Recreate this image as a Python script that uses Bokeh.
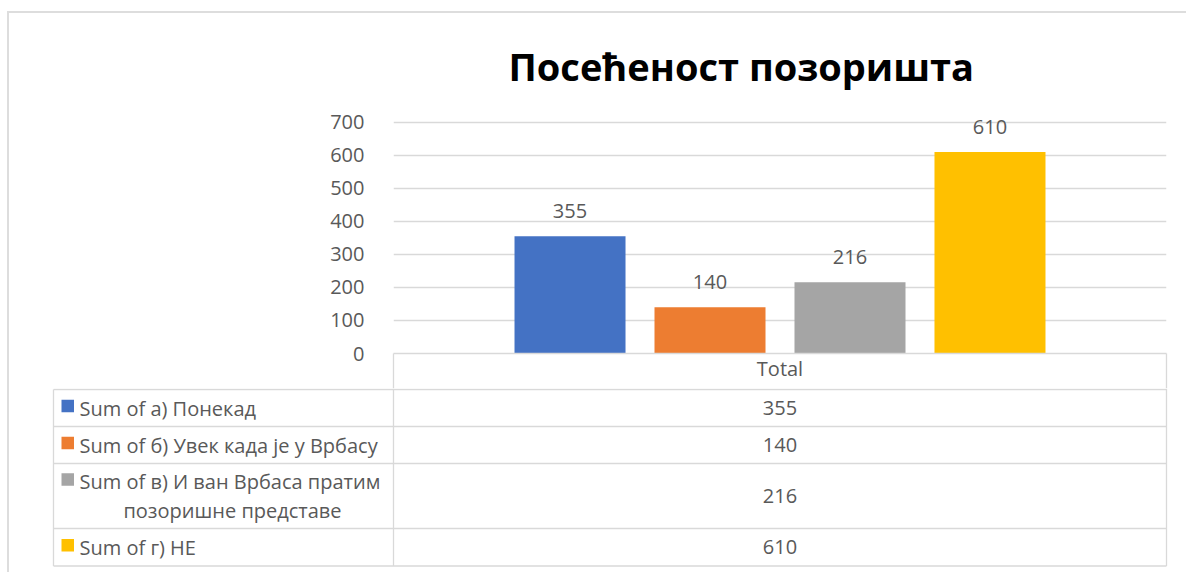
from bokeh.plotting import figure
from bokeh.layouts import column
from bokeh.models import Range1d, ColumnDataSource, LabelSet, FixedTicker
from bokeh.embed import file_html
from bokeh.resources import INLINE
from bokeh.core.properties import value

# ---------------- data ----------------
title_text = "Посећеност позоришта"
category = "Total"
series_labels = [
    "Sum of а) Понекад",
    "Sum of б) Увек када је у Врбасу",
    "Sum of в) И ван Врбаса пратим\nпозоришне представе",
    "Sum of г) НЕ",
]
series_values = [355, 140, 216, 610]
series_colors = ["#4472C4", "#ED7D31", "#A5A5A5", "#FFC000"]
y_ticks = [0, 100, 200, 300, 400, 500, 600, 700]

# ---------------- style / layout (page pixels) ----------------
FONT = "Open Sans"
TXT = "#595959"
GRID = "#D9D9D9"
W, H = 1186, 572
OX, OY = 9, 13             # content origin inside the bordered container
FRAME_L, FRAME_R = 393, 1166
FRAME_T, ZERO_Y = 112, 353
TABLE_TOP = 388
bar_width = 0.1436
bar_step = 0.1811
cat_center = 0.5

# ================= chart figure =================
p = figure(
    x_range=Range1d(0, 1), y_range=Range1d(0, 730),
    width=W - OX, height=TABLE_TOP - OY,
    frame_width=FRAME_R - FRAME_L, frame_height=ZERO_Y - FRAME_T,
    min_border_left=FRAME_L - OX, min_border_right=W - FRAME_R,
    min_border_top=FRAME_T - OY, min_border_bottom=TABLE_TOP - ZERO_Y,
    output_backend="svg", toolbar_location=None,
    outline_line_color=None, background_fill_color="white", border_fill_color="white",
    title=title_text,
)
p.title.align = "left"
p.title.offset = 115
p.title.standoff = 42
p.title.text_font = FONT
p.title.text_font_size = "38px"
p.title.text_font_style = "bold"
p.title.text_color = "#000000"

p.yaxis.ticker = FixedTicker(ticks=y_ticks)
p.yaxis.axis_line_color = None
p.yaxis.major_tick_line_color = None
p.yaxis.minor_tick_line_color = None
p.yaxis.major_label_standoff = 23
p.yaxis.major_label_text_font = FONT
p.yaxis.major_label_text_font_size = "20px"
p.yaxis.major_label_text_color = TXT

# x axis: category label, minor ticks at the category edges give the cell borders
p.xaxis.ticker = FixedTicker(ticks=[cat_center], minor_ticks=[0, 1])
p.xaxis.major_label_overrides = {cat_center: category}
p.xaxis.axis_line_color = GRID
p.xaxis.axis_line_width = 1.3
p.xaxis.major_tick_line_color = None
p.xaxis.minor_tick_line_color = GRID
p.xaxis.minor_tick_line_width = 1.3
p.xaxis.minor_tick_in = 0
p.xaxis.minor_tick_out = TABLE_TOP - ZERO_Y
p.xaxis.major_label_standoff = -34
p.xaxis.major_label_text_font = FONT
p.xaxis.major_label_text_font_size = "20px"
p.xaxis.major_label_text_color = TXT

p.xgrid.grid_line_color = None
p.ygrid.ticker = FixedTicker(ticks=y_ticks)
p.ygrid.grid_line_color = GRID
p.ygrid.grid_line_width = 1.3

n = len(series_values)
xs = [cat_center + (i - (n - 1) / 2) * bar_step for i in range(n)]
src = ColumnDataSource(dict(x=xs, val=series_values, lab=[str(v) for v in series_values],
                            color=series_colors))
p.vbar(x="x", top="val", width=bar_width, source=src, fill_color="color", line_color=None)
p.add_layout(LabelSet(x="x", y="val", text="lab", source=src, text_align="center",
                      text_baseline="alphabetic", y_offset=18, text_font=value(FONT),
                      text_font_size="20px", text_color=TXT))

# ================= data table figure =================
t = figure(
    x_range=Range1d(OX, W), y_range=Range1d(H, TABLE_TOP),
    width=W - OX, height=H - TABLE_TOP,
    min_border=0, x_axis_location=None, y_axis_location=None,
    output_backend="svg", toolbar_location=None,
    outline_line_color=None, background_fill_color="white", border_fill_color="white",
)
t.grid.visible = False

col_left, col_mid, col_right = 53, FRAME_L, FRAME_R
row_edges = [389, 426, 463, 528, 565.5]
line_gap = 29
text_shift = -7     # rendered text baseline correction
key_shift = -9

t.segment(x0=[col_left] * len(row_edges), x1=[col_right] * len(row_edges),
          y0=row_edges, y1=row_edges, line_color=GRID, line_width=1.3)
t.segment(x0=[col_left, col_mid, col_right], x1=[col_left, col_mid, col_right],
          y0=[row_edges[0], TABLE_TOP, TABLE_TOP], y1=[row_edges[-1]] * 3,
          line_color=GRID, line_width=1.3)

key_x, key_y, key_c = [], [], []
txt_x, txt_y, txt_s, txt_a = [], [], [], []
for r in range(n):
    top, bot = row_edges[r], row_edges[r + 1]
    mid = (top + bot) / 2
    lines = series_labels[r].split("\n")
    L = len(lines)
    for k, ln in enumerate(lines):
        base = mid + 7 + (k - (L - 1) / 2) * line_gap
        if k == 0:
            key_x.append(67.25); key_y.append(base + key_shift); key_c.append(series_colors[r])
            txt_x.append(79); txt_a.append("left")
        else:
            txt_x.append(232); txt_a.append("center")
        txt_y.append(base + text_shift); txt_s.append(ln)
    txt_x.append((col_mid + col_right) / 2); txt_y.append(mid + 7 + text_shift)
    txt_s.append(str(series_values[r])); txt_a.append("center")

t.rect(x=key_x, y=key_y, width=12.5, height=12.5, fill_color=key_c, line_color=None)
t.text(x=txt_x, y=txt_y, text=txt_s, text_align=txt_a, text_baseline="alphabetic",
       text_font=value(FONT), text_font_size="20px", text_color=TXT)

BORDER = "2px solid #DDDDDD"
if "frame_align" in p.properties():
    p.frame_align = False
    t.frame_align = False
    root = column(p, t, margin=(11, 0, 0, 7),
                  styles={"border-top": BORDER, "border-left": BORDER})
    html = file_html(root, INLINE)
else:
    p.margin = (11, 0, 0, 7)
    t.margin = (0, 0, 0, 7)
    p.styles = {"border-top": BORDER, "border-left": BORDER, "display": "block"}
    t.styles = {"border-left": BORDER, "display": "block"}
    html = file_html([p, t], INLINE)

open("out.html", "w").write(html)
